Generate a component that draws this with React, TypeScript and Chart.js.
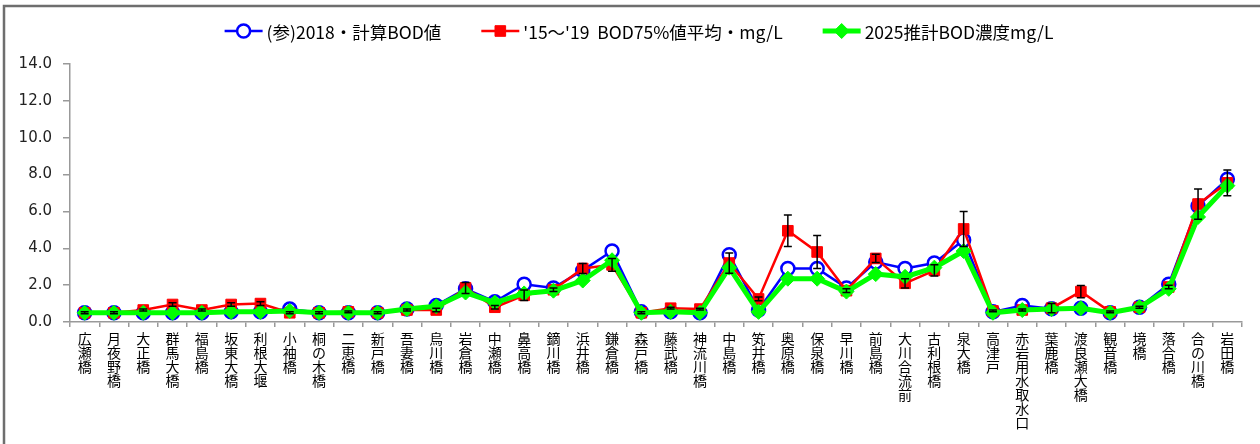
import React, { useEffect, useRef } from 'react';
import { Chart, registerables } from 'chart.js';

Chart.register(...registerables);

const categories = [
  '広瀬橋', '月夜野橋', '大正橋', '群馬大橋', '福島橋', '坂東大橋', '利根大堰', '小袖橋', '桐の木橋', '二恵橋',
  '新戸橋', '吾妻橋', '烏川橋', '岩倉橋', '中瀬橋', '鼻高橋', '鏑川橋', '浜井橋', '鎌倉橋', '森戸橋',
  '藤武橋', '神流川橋', '中島橋', '笂井橋', '奥原橋', '保泉橋', '早川橋', '前島橋', '大川合流前', '古利根橋',
  '泉大橋', '高津戸', '赤岩用水取水口', '葉鹿橋', '渡良瀬大橋', '観音橋', '境橋', '落合橋', '合の川橋', '岩田橋',
];

const bod2018 = [
  0.5, 0.5, 0.5, 0.5, 0.5, 0.55, 0.55, 0.7, 0.5, 0.5,
  0.5, 0.7, 0.9, 1.8, 1.1, 2.05, 1.85, 2.8, 3.85, 0.55,
  0.55, 0.5, 3.65, 0.65, 2.9, 2.9, 1.85, 3.25, 2.9, 3.2,
  4.45, 0.55, 0.9, 0.72, 0.75, 0.5, 0.8, 2.05, 6.3, 7.75,
];

const bodAvg = [
  0.5, 0.5, 0.65, 0.95, 0.65, 0.95, 1.0, 0.5, 0.5, 0.55,
  0.5, 0.65, 0.65, 1.85, 0.8, 1.45, 1.75, 2.9, 3.1, 0.5,
  0.75, 0.7, 3.2, 1.25, 4.95, 3.8, 1.7, 3.45, 2.1, 2.8,
  5.05, 0.6, 0.65, 0.75, 1.65, 0.55, 0.8, 1.9, 6.4, 7.55,
];

const bodAvgErr = [
  0.05, 0.05, 0.05, 0.1, 0.05, 0.1, 0.1, 0.05, 0.05, 0.05,
  0.05, 0.05, 0.1, 0.3, 0.1, 0.28, 0.1, 0.27, 0.35, 0.05,
  0.05, 0.05, 0.55, 0.1, 0.85, 0.9, 0.1, 0.22, 0.25, 0.3,
  0.95, 0.05, 0.05, 0.25, 0.33, 0.05, 0.05, 0.1, 0.82, 0.7,
];

const bod2025 = [
  0.5, 0.5, 0.5, 0.5, 0.5, 0.55, 0.55, 0.6, 0.5, 0.5,
  0.5, 0.7, 0.85, 1.6, 1.05, 1.55, 1.7, 2.25, 3.35, 0.5,
  0.55, 0.5, 2.95, 0.55, 2.35, 2.35, 1.65, 2.6, 2.45, 2.95,
  3.85, 0.5, 0.65, 0.7, 0.75, 0.5, 0.8, 1.8, 5.7, 7.4,
];

const seriesNames = [
  '(参)2018・計算BOD値',
  "'15〜'19  BOD75%値平均・mg/L",
  '2025推計BOD濃度mg/L',
];

const yMin = 0;
const yMax = 14;
const yStep = 2;

const W = 1260;
const H = 444;

function drawMarker(ctx: CanvasRenderingContext2D, style: string, x: number, y: number, r: number, fill: string, stroke: string, lw: number) {
  ctx.beginPath();
  if (style === 'circle') {
    ctx.arc(x, y, r, 0, Math.PI * 2);
  } else if (style === 'rect') {
    const s = r * Math.SQRT1_2;
    ctx.rect(x - s, y - s, 2 * s, 2 * s);
  } else {
    ctx.moveTo(x, y - r);
    ctx.lineTo(x + r, y);
    ctx.lineTo(x, y + r);
    ctx.lineTo(x - r, y);
    ctx.closePath();
  }
  ctx.fillStyle = fill;
  ctx.fill();
  ctx.lineWidth = lw;
  ctx.strokeStyle = stroke;
  ctx.stroke();
}

const framePlugin = {
  id: 'frame',
  beforeDraw(chart: any) {
    const ctx = chart.ctx;
    ctx.save();
    ctx.fillStyle = '#ffffff';
    ctx.fillRect(0, 0, chart.width, chart.height);
    ctx.strokeStyle = '#6e6e6e';
    ctx.lineWidth = 2.5;
    ctx.strokeRect(4, 6, chart.width + 40, chart.height + 40);
    ctx.restore();
  },
};

const errorBarPlugin = {
  id: 'errorBars',
  afterDatasetsDraw(chart: any) {
    const ctx = chart.ctx;
    const meta = chart.getDatasetMeta(1);
    const yScale = chart.scales.y;
    ctx.save();
    ctx.strokeStyle = '#000000';
    ctx.lineWidth = 1.5;
    meta.data.forEach((pt: any, i: number) => {
      const v = bodAvg[i];
      const e = bodAvgErr[i];
      const yTop = yScale.getPixelForValue(v + e);
      const yBot = yScale.getPixelForValue(v - e);
      const x = pt.x;
      ctx.beginPath();
      ctx.moveTo(x, yTop);
      ctx.lineTo(x, yBot);
      ctx.moveTo(x - 4, yTop);
      ctx.lineTo(x + 4, yTop);
      ctx.moveTo(x - 4, yBot);
      ctx.lineTo(x + 4, yBot);
      ctx.stroke();
    });
    ctx.restore();
  },
};

const legendPlugin = {
  id: 'customLegend',
  afterDraw(chart: any) {
    const ctx = chart.ctx;
    ctx.save();
    ctx.font = '17.5px "Noto Sans CJK JP"';
    ctx.textBaseline = 'middle';
    const lineW = 38;
    const gapText = 4;
    const gapItem = 40;
    const dsList = chart.data.datasets;
    const widths = dsList.map((ds: any) => lineW + gapText + ctx.measureText(ds.label).width);
    const total = widths.reduce((a: number, b: number) => a + b, 0) + gapItem * (dsList.length - 1);
    let x = 639 - total / 2;
    const y = 31;
    dsList.forEach((ds: any, i: number) => {
      ctx.beginPath();
      ctx.moveTo(x, y);
      ctx.lineTo(x + lineW, y);
      ctx.strokeStyle = ds.borderColor;
      ctx.lineWidth = ds.borderWidth;
      ctx.stroke();
      drawMarker(ctx, ds.pointStyle, x + lineW / 2, y, ds.pointRadius, ds.pointBackgroundColor, ds.pointBorderColor, ds.pointBorderWidth);
      ctx.fillStyle = '#000000';
      ctx.fillText(ds.label, x + lineW + gapText, y + 1);
      x += widths[i] + gapItem;
    });
    ctx.restore();
  },
};

export default function App() {
  const canvasRef = useRef<HTMLCanvasElement | null>(null);

  useEffect(() => {
    document.body.style.margin = '0';
    const canvas = canvasRef.current;
    if (!canvas) return;
    const chart = new Chart(canvas, {
      type: 'line',
      data: {
        labels: categories.map((c) => Array.from(c)),
        datasets: [
          {
            label: seriesNames[0],
            data: bod2018,
            borderColor: '#0000ff',
            borderWidth: 2.5,
            pointStyle: 'circle',
            pointRadius: 6.5,
            pointBackgroundColor: '#ffffff',
            pointBorderColor: '#0000ff',
            pointBorderWidth: 2.5,
            tension: 0,
            order: 2,
          },
          {
            label: seriesNames[1],
            data: bodAvg,
            borderColor: '#ff0000',
            borderWidth: 2.5,
            pointStyle: 'rect',
            pointRadius: 7.5,
            pointBackgroundColor: '#ff0000',
            pointBorderColor: '#ff0000',
            pointBorderWidth: 1,
            tension: 0,
            order: 1,
          },
          {
            label: seriesNames[2],
            data: bod2025,
            borderColor: '#00ff00',
            borderWidth: 5,
            pointStyle: 'rectRot',
            pointRadius: 7.5,
            pointBackgroundColor: '#00ff00',
            pointBorderColor: '#00ff00',
            pointBorderWidth: 1,
            tension: 0,
            order: 0,
          },
        ],
      },
      options: {
        responsive: false,
        animation: false,
        layout: { padding: { top: 64, right: 18, left: 0, bottom: 0 } },
        plugins: {
          legend: { display: false },
          tooltip: { enabled: false },
        },
        scales: {
          x: {
            type: 'category',
            offset: true,
            afterFit: (s: any) => {
              s.height = 122;
            },
            grid: {
              display: true,
              offset: true,
              drawOnChartArea: false,
              drawTicks: true,
              tickLength: 5,
              color: '#999999',
              lineWidth: 1.5,
            },
            border: { color: '#999999', width: 1.5 },
            ticks: {
              autoSkip: false,
              maxRotation: 0,
              minRotation: 0,
              padding: 5,
              color: '#000000',
              font: { family: '"Noto Sans CJK JP"', size: 14, lineHeight: 1.0 },
            },
          },
          y: {
            min: yMin,
            max: yMax,
            afterFit: (s: any) => {
              s.width = 70;
            },
            grid: {
              display: true,
              drawOnChartArea: false,
              drawTicks: true,
              tickLength: 7,
              color: '#999999',
              lineWidth: 1.5,
            },
            border: { color: '#999999', width: 1.5 },
            ticks: {
              stepSize: yStep,
              padding: 11,
              color: '#222222',
              font: { family: '"DejaVu Sans"', size: 15 },
              callback: (v: any) => Number(v).toFixed(1),
            },
          },
        },
      },
      plugins: [framePlugin, errorBarPlugin, legendPlugin],
    });
    return () => {
      chart.destroy();
    };
  }, []);

  return (
    <div style={{ width: W, height: H }}>
      <canvas ref={canvasRef} width={W} height={H} style={{ display: 'block' }} />
    </div>
  );
}
